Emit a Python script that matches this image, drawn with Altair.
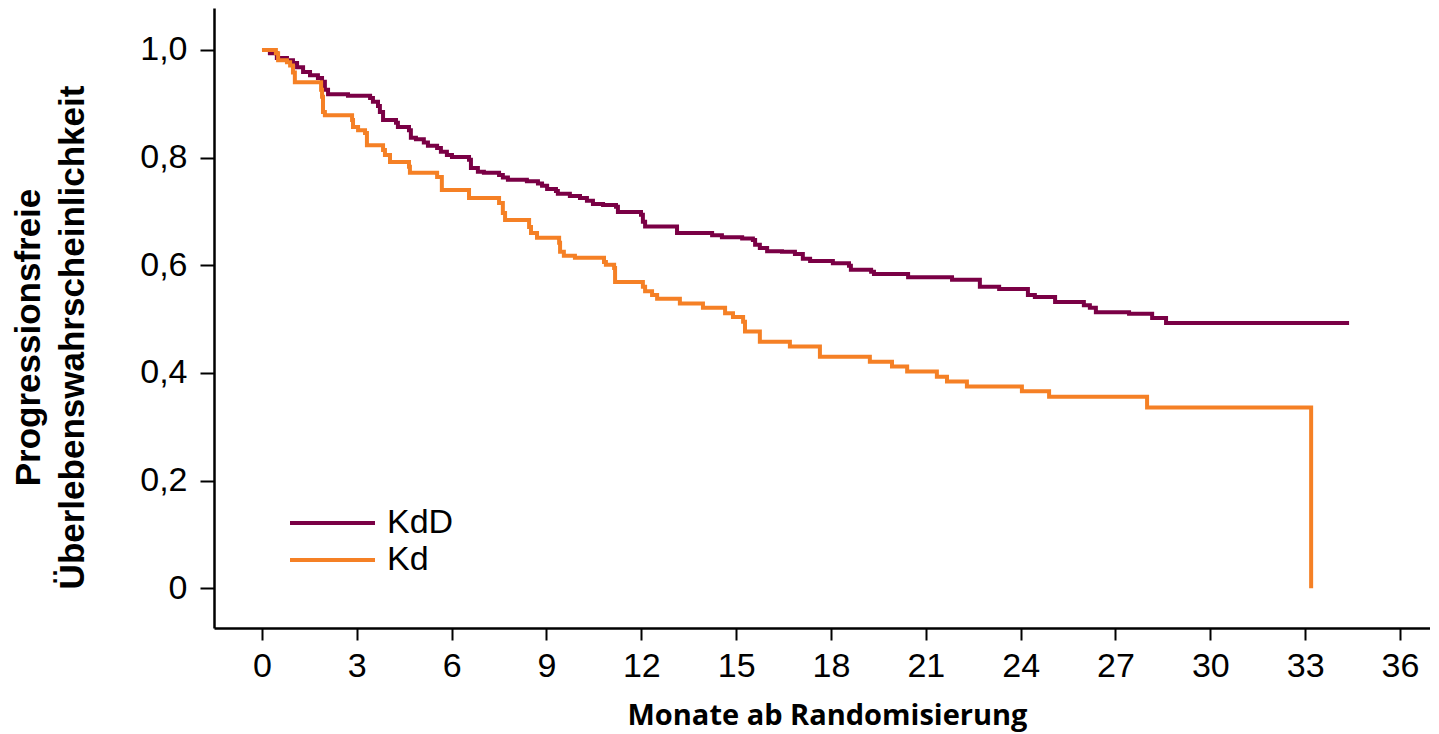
import altair as alt
import pandas as pd

# Kaplan-Meier style step curves
kdd_time = [0.0, 0.25, 0.47, 0.79, 0.98, 1.11, 1.30, 1.52, 1.77, 1.90, 1.99, 2.09, 2.72, 3.42,
            3.51, 3.67, 3.73, 3.83, 4.24, 4.30, 4.65, 4.71, 4.87, 5.12, 5.25, 5.54, 5.66, 5.85,
            6.01, 6.55, 6.61, 6.83, 7.02, 7.50, 7.62, 7.78, 8.38, 8.73, 8.86, 9.02, 9.30, 9.36,
            9.74, 10.06, 10.28, 10.47, 10.79, 11.20, 11.26, 11.99, 12.05, 12.12, 13.13, 14.24,
            14.55, 15.19, 15.53, 15.60, 15.75, 15.98, 16.45, 16.86, 17.11, 17.34, 18.06, 18.57,
            18.63, 19.27, 19.36, 20.44, 21.83, 22.71, 23.32, 24.23, 24.45, 25.09, 26.00, 26.19,
            26.38, 27.43, 28.16, 28.60, 34.39]
kdd_surv = [1.000, 0.994, 0.985, 0.981, 0.976, 0.968, 0.959, 0.953, 0.948, 0.941, 0.926, 0.918,
            0.915, 0.911, 0.904, 0.896, 0.885, 0.870, 0.865, 0.857, 0.851, 0.837, 0.834, 0.828,
            0.822, 0.818, 0.811, 0.805, 0.801, 0.796, 0.781, 0.774, 0.772, 0.768, 0.763, 0.759,
            0.756, 0.752, 0.748, 0.742, 0.738, 0.733, 0.729, 0.725, 0.720, 0.714, 0.712, 0.709,
            0.699, 0.694, 0.681, 0.672, 0.660, 0.656, 0.652, 0.650, 0.647, 0.638, 0.632, 0.626,
            0.625, 0.621, 0.612, 0.608, 0.604, 0.599, 0.592, 0.588, 0.584, 0.578, 0.573, 0.560,
            0.556, 0.545, 0.541, 0.532, 0.526, 0.521, 0.513, 0.510, 0.502, 0.493, 0.493]

kd_time = [0.0, 0.44, 0.51, 0.79, 0.89, 0.98, 1.04, 1.87, 1.90, 1.93, 1.99, 2.85, 2.88, 3.04,
           3.26, 3.32, 3.83, 3.89, 4.05, 4.65, 4.68, 5.54, 5.69, 6.55, 7.50, 7.62, 7.69, 8.45,
           8.51, 8.70, 9.40, 9.43, 9.55, 9.90, 10.82, 10.88, 11.14, 11.17, 12.05, 12.12, 12.34,
           12.50, 13.22, 13.95, 14.65, 14.90, 15.22, 15.28, 15.75, 16.70, 17.65, 19.23, 19.93,
           20.41, 21.35, 21.67, 22.30, 24.04, 24.90, 28.00, 33.19, 33.19]
kd_surv = [1.000, 0.994, 0.981, 0.977, 0.971, 0.958, 0.940, 0.926, 0.913, 0.885, 0.879, 0.870,
           0.857, 0.851, 0.846, 0.823, 0.814, 0.805, 0.792, 0.783, 0.772, 0.764, 0.740, 0.725,
           0.716, 0.697, 0.684, 0.671, 0.660, 0.651, 0.642, 0.625, 0.618, 0.614, 0.606, 0.601,
           0.595, 0.569, 0.560, 0.552, 0.545, 0.538, 0.529, 0.521, 0.511, 0.504, 0.495, 0.477,
           0.458, 0.449, 0.430, 0.421, 0.412, 0.403, 0.393, 0.384, 0.375, 0.366, 0.356, 0.336,
           0.336, 0.000]

groups = ["KdD", "Kd"]
colors = ["#7A0045", "#F58025"]
x_ticks = list(range(0, 37, 3))
y_ticks = [0, 0.2, 0.4, 0.6, 0.8, 1.0]

rows = []
for i, (t, s) in enumerate(zip(kdd_time, kdd_surv)):
    rows.append({"group": "KdD", "t": t, "s": s, "order": i})
for i, (t, s) in enumerate(zip(kd_time, kd_surv)):
    rows.append({"group": "Kd", "t": t, "s": s, "order": i})
df = pd.DataFrame(rows)

W, H = 1216, 620
FONT = "Liberation Sans"

x_scale = alt.Scale(domain=[-1.518, 36.95], nice=False, zero=False)
y_scale = alt.Scale(domain=[-0.0737, 1.078], nice=False, zero=False)

lines = alt.Chart(df).mark_line(interpolate="step-after", strokeWidth=4).encode(
    x=alt.X("t:Q", scale=x_scale,
            axis=alt.Axis(values=x_ticks, title="Monate ab Randomisierung",
                          titleFont="Open Sans", titleFontSize=29, titleFontWeight="bold",
                          titleBaseline="alphabetic", titleY=96, titleX=613,
                          labelPadding=9, tickSize=12)),
    y=alt.Y("s:Q", scale=y_scale,
            axis=alt.Axis(values=y_ticks,
                          labelExpr="datum.value == 0 ? '0' : replace(format(datum.value, '.1f'), '.', ',')",
                          title=["Progressionsfreie", "Überlebenswahrscheinlichkeit"],
                          titleFont=FONT, titleFontSize=35, titleFontWeight="bold",
                          titleAngle=270, titleX=-186, titleY=329, titleAlign="center",
                          titleBaseline="middle", titleLineHeight=44,
                          labelPadding=13, tickSize=14)),
    color=alt.Color("group:N", scale=alt.Scale(domain=groups, range=colors), legend=None),
    order="order:Q",
)

# manual legend
leg_df = pd.DataFrame({"group": groups, "y": [515, 552]})
leg_lines = alt.Chart(leg_df).mark_rule(strokeWidth=4).encode(
    x=alt.value(76), x2=alt.value(161), y=alt.Y("y:Q", scale=None),
    color=alt.Color("group:N", scale=alt.Scale(domain=groups, range=colors), legend=None),
)
leg_text = alt.Chart(leg_df).mark_text(align="left", baseline="middle", font=FONT,
                                       fontSize=34, color="black").encode(
    x=alt.value(173), y=alt.Y("y:Q", scale=None), text="group:N",
)

chart = alt.layer(lines, leg_lines, leg_text).properties(
    width=W, height=H,
    autosize=alt.AutoSizeParams(type="none"),
    padding={"left": 206, "top": 0, "right": 0, "bottom": 104},
).configure_view(stroke=None).configure_axis(
    grid=False, domainColor="black", domainWidth=2.5, tickColor="black", tickWidth=2,
    labelFont=FONT, labelFontSize=34, labelColor="black", titleColor="black",
)

chart.save("out.html", embed_options={"renderer": "svg", "actions": False})
